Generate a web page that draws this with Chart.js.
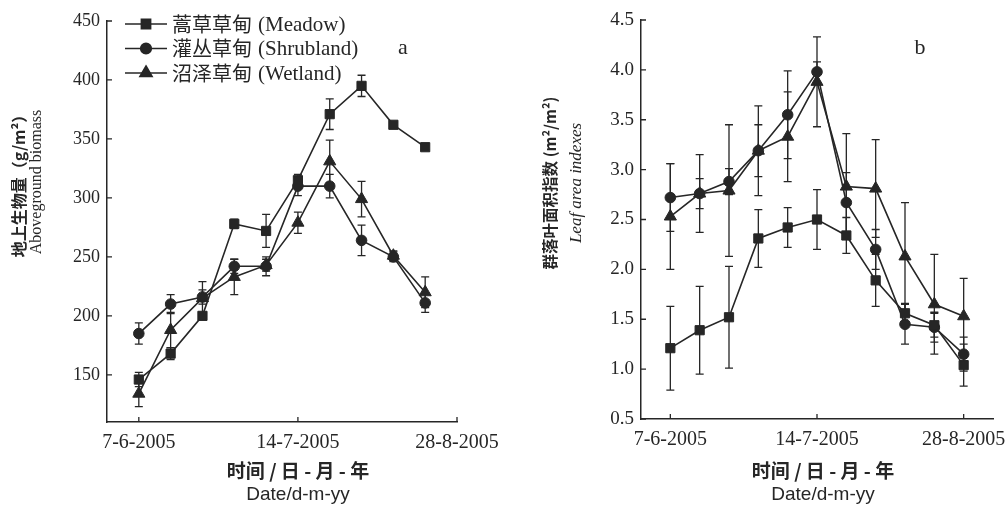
<!DOCTYPE html>
<html>
<head>
<meta charset="utf-8">
<script src="https://cdn.jsdelivr.net/npm/chart.js@4.4.1/dist/chart.umd.min.js"></script>
<style>
    html, body { margin: 0; padding: 0; background: #fff; }
    #wrap { position: relative; width: 1008px; height: 506px; }
    .panel { position: absolute; top: 0; width: 504px; height: 506px; }
</style>
</head>
<body>
<div id="wrap">
    <div class="panel" style="left:0"><canvas id="biomass"></canvas></div>
    <div class="panel" style="left:504px"><canvas id="lai"></canvas></div>
</div>
<script>
// sampling dates are plotted by index, only three of them get a label
const dateTicks = [0, 5, 10];
const dateLabels = ['7-6-2005', '14-7-2005', '28-8-2005'];

const seriesZh = ['蒿草草甸', '灌丛草甸', '沼泽草甸'];
const seriesEn = ['(Meadow)', '(Shrubland)', '(Wetland)'];
const seriesStyle = ['rect', 'circle', 'triangle'];
const seriesRadius = [6.5, 5.3, 7];

// a: aboveground biomass (g/m2)
const biomassTicks = [150, 200, 250, 300, 350, 400, 450];
const biomassMeadow = [146, 168, 200, 278, 272, 315, 371, 395, 362, 343];
const biomassMeadowErr = [6, 5, 3, 4, 14, 5, 13, 9, 2, 2];
const biomassShrub = [185, 210, 216, 242, 242, 310, 310, 264, 250, 211];
const biomassShrubErr = [9, 8, 6, 6, 8, 8, 10, 13, 4, 8];
const biomassWet = [134, 188, 215, 233, 243, 279, 331, 299, 251, 220];
const biomassWetErr = [11, 15, 14, 15, 5, 9, 18, 15, 4, 13];

// b: leaf area index (m2/m2)
const laiTicks = [0.5, 1.0, 1.5, 2.0, 2.5, 3.0, 3.5, 4.0, 4.5];
const laiMeadow = [1.21, 1.39, 1.52, 2.31, 2.42, 2.50, 2.34, 1.89, 1.56, 1.44, 1.04];
const laiMeadowErr = [0.42, 0.44, 0.51, 0.29, 0.20, 0.30, 0.18, 0.26, 0.10, 0.12, 0.21];
const laiShrub = [2.72, 2.76, 2.88, 3.19, 3.55, 3.98, 2.67, 2.20, 1.45, 1.42, 1.15];
const laiShrubErr = [0.34, 0.39, 0.13, 0.26, 0.44, 0.10, 0.30, 0.20, 0.20, 0.15, 0.17];
const laiWet = [2.53, 2.76, 2.79, 3.19, 3.33, 3.88, 2.83, 2.81, 2.13, 1.65, 1.53];
const laiWetErr = [0.53, 0.15, 0.66, 0.45, 0.45, 0.45, 0.53, 0.49, 0.54, 0.50, 0.38];

const INK = '#262626';
const SERIF = "'Liberation Serif', 'DejaVu Serif', serif";
const CJK = "'Noto Sans CJK SC', sans-serif";
const SANS = "'Liberation Sans', Arial, sans-serif";

function makeDatasets(values, errors) {
    return values.map((vals, i) => ({
        label: seriesZh[i] + ' ' + seriesEn[i],
        data: vals.map((y, x) => ({ x, y })),
        errors: errors[i],
        borderColor: INK,
        borderWidth: 1.6,
        backgroundColor: INK,
        pointStyle: seriesStyle[i],
        pointRadius: seriesRadius[i],
        pointBackgroundColor: INK,
        pointBorderColor: INK,
        pointBorderWidth: 1,
        tension: 0
    }));
}

const errorBars = {
    id: 'errorBars',
    beforeDatasetsDraw(chart) {
        const { ctx } = chart;
        const yScale = chart.scales.y;
        ctx.save();
        ctx.strokeStyle = INK;
        ctx.lineWidth = 1.3;
        chart.data.datasets.forEach((ds, i) => {
            chart.getDatasetMeta(i).data.forEach((pt, j) => {
                const v = ds.data[j].y;
                const top = yScale.getPixelForValue(v + ds.errors[j]);
                const bot = yScale.getPixelForValue(v - ds.errors[j]);
                ctx.beginPath();
                ctx.moveTo(pt.x, top);
                ctx.lineTo(pt.x, bot);
                ctx.moveTo(pt.x - 4, top);
                ctx.lineTo(pt.x + 4, top);
                ctx.moveTo(pt.x - 4, bot);
                ctx.lineTo(pt.x + 4, bot);
                ctx.stroke();
            });
        });
        ctx.restore();
    }
};

// tick marks point into the plot
const innerTicks = {
    id: 'innerTicks',
    afterDraw(chart) {
        const { ctx, chartArea, scales } = chart;
        ctx.save();
        ctx.strokeStyle = INK;
        ctx.lineWidth = 1.3;
        ctx.beginPath();
        scales.x.ticks.forEach(t => {
            const px = scales.x.getPixelForValue(t.value);
            ctx.moveTo(px, chartArea.bottom);
            ctx.lineTo(px, chartArea.bottom - 5);
        });
        scales.y.ticks.forEach(t => {
            const py = scales.y.getPixelForValue(t.value);
            ctx.moveTo(chartArea.left, py);
            ctx.lineTo(chartArea.left + 5, py);
        });
        ctx.stroke();
        ctx.restore();
    }
};

// axis titles (two fonts each), panel letter, and the in-plot legend
const decor = {
    id: 'decor',
    afterDraw(chart, args, opts) {
        const { ctx } = chart;
        ctx.save();
        ctx.fillStyle = INK;
        ctx.textAlign = 'center';
        ctx.textBaseline = 'middle';

        ctx.font = 'bold 19px ' + CJK;
        ctx.fillText('时间 / 日 - 月 - 年', opts.xTitleX, 471);
        ctx.font = '19px ' + SANS;
        ctx.fillText('Date/d-m-yy', opts.xTitleX, 495);

        ctx.save();
        ctx.translate(opts.yTitleX[0], opts.yTitleY);
        ctx.rotate(-Math.PI / 2);
        ctx.font = opts.yTitleZhFont;
        ctx.fillText(opts.yTitleZh, 0, 0);
        ctx.restore();

        ctx.save();
        ctx.translate(opts.yTitleX[1], opts.yTitleY);
        ctx.rotate(-Math.PI / 2);
        ctx.font = opts.yTitleEnFont;
        ctx.fillText(opts.yTitleEn, 0, 0);
        ctx.restore();

        ctx.font = '22px ' + SERIF;
        ctx.fillText(opts.letter, opts.letterX, 48);

        if (opts.legend) {
            ctx.textAlign = 'left';
            chart.data.datasets.forEach((ds, i) => {
                const y = 24 + i * 24.5;
                ctx.strokeStyle = INK;
                ctx.lineWidth = 1.6;
                ctx.beginPath();
                ctx.moveTo(125, y);
                ctx.lineTo(167, y);
                ctx.stroke();
                Chart.helpers.drawPoint(ctx, {
                    pointStyle: ds.pointStyle,
                    radius: ds.pointRadius,
                    rotation: 0,
                    borderWidth: 1
                }, 146, y);
                ctx.font = '20px ' + CJK;
                ctx.fillText(seriesZh[i], 172, y);
                const w = ctx.measureText(seriesZh[i]).width;
                ctx.font = '21px ' + SERIF;
                ctx.fillText(seriesEn[i], 172 + w + 6, y + 1);
            });
        }
        ctx.restore();
    }
};

function makeChart(canvasId, cfg) {
    return new Chart(document.getElementById(canvasId), {
        type: 'line',
        data: { datasets: makeDatasets(cfg.values, cfg.errors) },
        plugins: [errorBars, innerTicks, decor],
        options: {
            responsive: true,
            maintainAspectRatio: false,
            animation: false,
            layout: { padding: cfg.padding },
            plugins: {
                legend: { display: false },
                tooltip: { enabled: false },
                decor: cfg.decor
            },
            scales: {
                x: {
                    type: 'linear',
                    min: -1,
                    max: cfg.xMax,
                    afterBuildTicks: s => { s.ticks = dateTicks.map(v => ({ value: v })); },
                    afterFit: s => {
                        s.height = cfg.xHeight;
                        s.paddingLeft = 0;
                        s.paddingRight = 0;
                    },
                    grid: { display: true, drawOnChartArea: false, drawTicks: false, color: 'rgba(0,0,0,0)' },
                    border: { display: true, color: INK, width: 1.5 },
                    ticks: {
                        padding: 9,
                        color: INK,
                        maxRotation: 0,
                        autoSkip: false,
                        font: { family: SERIF, size: 20 },
                        callback: v => dateLabels[dateTicks.indexOf(v)] || ''
                    }
                },
                y: {
                    min: cfg.yMin,
                    max: cfg.yMax,
                    afterBuildTicks: s => { s.ticks = cfg.yTicks.map(v => ({ value: v })); },
                    afterFit: s => {
                        s.width = cfg.yWidth;
                        s.paddingTop = 0;
                        s.paddingBottom = 0;
                    },
                    grid: { display: true, drawOnChartArea: false, drawTicks: false, color: 'rgba(0,0,0,0)' },
                    border: { display: true, color: INK, width: 1.5 },
                    ticks: {
                        padding: 7,
                        color: INK,
                        font: { family: SERIF, size: cfg.yFont },
                        callback: cfg.yFormat
                    }
                }
            }
        }
    });
}

makeChart('biomass', {
    values: [biomassMeadow, biomassShrub, biomassWet],
    errors: [biomassMeadowErr, biomassShrubErr, biomassWetErr],
    padding: { left: 0, top: 21, right: 47, bottom: 0 },
    xMax: 10, xHeight: 84,
    yMin: 110, yMax: 450, yTicks: biomassTicks, yWidth: 107, yFont: 18,
    yFormat: v => String(v),
    decor: {
        xTitleX: 298,
        yTitleX: [19, 37], yTitleY: 182,
        yTitleZh: '地上生物量（g/m²）',
        yTitleZhFont: 'bold 16px ' + CJK,
        yTitleEn: 'Aboveground biomass',
        yTitleEnFont: '16px ' + SERIF,
        letter: 'a', letterX: 403,
        legend: true
    }
});

makeChart('lai', {
    values: [laiMeadow, laiShrub, laiWet],
    errors: [laiMeadowErr, laiShrubErr, laiWetErr],
    padding: { left: 0, top: 20, right: 15, bottom: 0 },
    xMax: 11, xHeight: 87,
    yMin: 0.5, yMax: 4.5, yTicks: laiTicks, yWidth: 137, yFont: 19,
    yFormat: v => v.toFixed(1),
    decor: {
        xTitleX: 319,
        yTitleX: [46, 73], yTitleY: 183,
        yTitleZh: '群落叶面积指数 (m²/m²)',
        yTitleZhFont: 'bold 15.5px ' + CJK,
        yTitleEn: 'Leaf area indexes',
        yTitleEnFont: 'italic 17px ' + SERIF,
        letter: 'b', letterX: 416,
        legend: false
    }
});
</script>
</body>
</html>
